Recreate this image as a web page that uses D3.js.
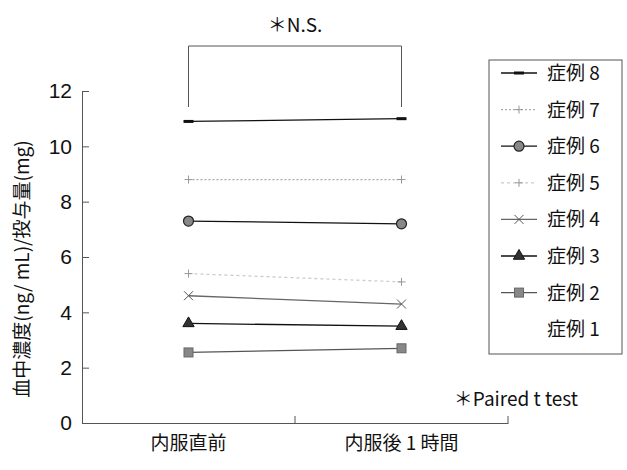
<!DOCTYPE html>
<html lang="ja">
<head>
<meta charset="UTF-8" />
<title>症例別 血中濃度/投与量</title>
<style>
  body { margin: 0; background: #fff; font-family: "Noto Sans CJK JP", "Liberation Sans", sans-serif; }
  .tick text { font-family: "Liberation Sans", Arial, sans-serif; }
</style>
</head>
<body>
<svg width="627" height="470"></svg>
<script src="https://d3js.org/d3.v7.min.js"></script>
<script>
// data
const timepoints = ["内服直前", "内服後 1 時間"];
const cases = ["症例 8", "症例 7", "症例 6", "症例 5", "症例 4", "症例 3", "症例 2", "症例 1"];
const case8 = [10.9, 11.0];
const case7 = [8.8, 8.8];
const case6 = [7.3, 7.2];
const case5 = [5.4, 5.1];
const case4 = [4.6, 4.3];
const case3 = [3.6, 3.5];
const case2 = [2.55, 2.7];
const case1 = [null, null]; // not visible in the figure
const yTicks = [0, 2, 4, 6, 8, 10, 12];

const series = [
  { name: cases[0], values: case8, stroke: "#111", dash: null, marker: "dash" },
  { name: cases[1], values: case7, stroke: "#aaa", dash: "2,2", marker: "plus" },
  { name: cases[2], values: case6, stroke: "#111", dash: null, marker: "circle" },
  { name: cases[3], values: case5, stroke: "#ccc", dash: "3,3", marker: "plus" },
  { name: cases[4], values: case4, stroke: "#666", dash: null, marker: "cross" },
  { name: cases[5], values: case3, stroke: "#111", dash: null, marker: "triangle" },
  { name: cases[6], values: case2, stroke: "#555", dash: null, marker: "square" },
  { name: cases[7], values: case1, stroke: "none", dash: null, marker: "none" }
];

const svg = d3.select("svg");
const left = 82;

const x = d3.scaleBand().domain(timepoints).range([left, 508]);
const y = d3.scaleLinear().domain([0, 12]).range([423, 91]);

// axes
const yAxis = svg.append("g")
  .attr("transform", `translate(${left},0)`)
  .call(d3.axisLeft(y).tickValues(yTicks).tickSizeInner(-7).tickSizeOuter(-7).tickPadding(10));
yAxis.selectAll("text").attr("font-size", 21).attr("fill", "#111");
yAxis.selectAll("line, path").attr("stroke", "#555");

const xAxis = svg.append("g")
  .attr("transform", `translate(0,423)`)
  .call(d3.axisBottom(x).tickSize(0).tickPadding(14));
xAxis.select(".domain").attr("stroke", "#555");
xAxis.selectAll("text").attr("font-size", 19).attr("fill", "#111")
  .style("font-family", "'Noto Sans CJK JP', sans-serif");
// separator ticks pointing up
const xSep = [x.range()[0] + x.bandwidth(), x.range()[1]];
svg.append("g").selectAll("line").data(xSep).join("line")
  .attr("x1", d => d).attr("x2", d => d)
  .attr("y1", 423).attr("y2", 416)
  .attr("stroke", "#555");

// y axis title
svg.append("text")
  .attr("transform", `translate(29,${(91 + 423) / 2 + 12}) rotate(-90)`)
  .attr("text-anchor", "middle")
  .attr("font-size", 19)
  .attr("fill", "#111")
  .text("血中濃度(ng/ mL)/投与量(mg)");

// marker drawing helper
function drawMarker(g, type, cx, cy) {
  if (type === "dash") {
    g.append("rect").attr("x", cx - 5).attr("y", cy - 1.5).attr("width", 10).attr("height", 3).attr("fill", "#111");
  } else if (type === "plus") {
    g.append("path").attr("d", `M${cx - 4},${cy}H${cx + 4}M${cx},${cy - 4}V${cy + 4}`)
      .attr("stroke", "#999").attr("stroke-width", 1);
  } else if (type === "circle") {
    g.append("circle").attr("cx", cx).attr("cy", cy).attr("r", 5)
      .attr("fill", "#888").attr("stroke", "#222").attr("stroke-width", 1.2);
  } else if (type === "cross") {
    g.append("path").attr("d", `M${cx - 4.5},${cy - 4.5}L${cx + 4.5},${cy + 4.5}M${cx - 4.5},${cy + 4.5}L${cx + 4.5},${cy - 4.5}`)
      .attr("stroke", "#555").attr("stroke-width", 1);
  } else if (type === "triangle") {
    g.append("path").attr("d", d3.symbol(d3.symbolTriangle, 55)())
      .attr("transform", `translate(${cx},${cy})`)
      .attr("fill", "#333").attr("stroke", "#111");
  } else if (type === "square") {
    g.append("rect").attr("x", cx - 4.5).attr("y", cy - 4.5).attr("width", 9).attr("height", 9)
      .attr("fill", "#888").attr("stroke", "#666");
  }
}

const cx = d => x(d) + x.bandwidth() / 2;
const line = d3.line()
  .defined(d => d.v != null)
  .x(d => cx(d.t))
  .y(d => y(d.v));

const plot = svg.append("g");
series.forEach(s => {
  const pts = timepoints.map((t, i) => ({ t, v: s.values[i] }));
  const g = plot.append("g");
  g.append("path").datum(pts)
    .attr("d", line)
    .attr("fill", "none")
    .attr("stroke", s.stroke)
    .attr("stroke-width", 1.3)
    .attr("stroke-dasharray", s.dash);
  pts.filter(p => p.v != null).forEach(p => drawMarker(g, s.marker, cx(p.t), y(p.v)));
});

// significance bracket
const bx1 = cx(timepoints[0]), bx2 = cx(timepoints[1]);
svg.append("path")
  .attr("d", `M${bx1},107V46H${bx2}V107`)
  .attr("fill", "none").attr("stroke", "#555").attr("stroke-width", 1);
svg.append("text")
  .attr("x", (bx1 + bx2) / 2).attr("y", 32)
  .attr("text-anchor", "middle").attr("font-size", 19).attr("fill", "#111")
  .text("＊N.S.");

svg.append("text")
  .attr("x", 578).attr("y", 406)
  .attr("text-anchor", "end").attr("font-size", 19).attr("fill", "#111")
  .text("＊Paired t test");

// legend
const lg = svg.append("g");
lg.append("rect").attr("x", 489).attr("y", 60).attr("width", 133).attr("height", 294)
  .attr("fill", "#fff").attr("stroke", "#555");
series.forEach((s, i) => {
  const ly = 73 + i * 36.6;
  const row = lg.append("g");
  row.append("line").attr("x1", 501).attr("x2", 537).attr("y1", ly).attr("y2", ly)
    .attr("stroke", s.stroke).attr("stroke-width", 1.3).attr("stroke-dasharray", s.dash);
  drawMarker(row, s.marker, 519, ly);
  row.append("text").attr("x", 547).attr("y", ly + 7)
    .attr("font-size", 19).attr("fill", "#111").text(s.name);
});
</script>
</body>
</html>
